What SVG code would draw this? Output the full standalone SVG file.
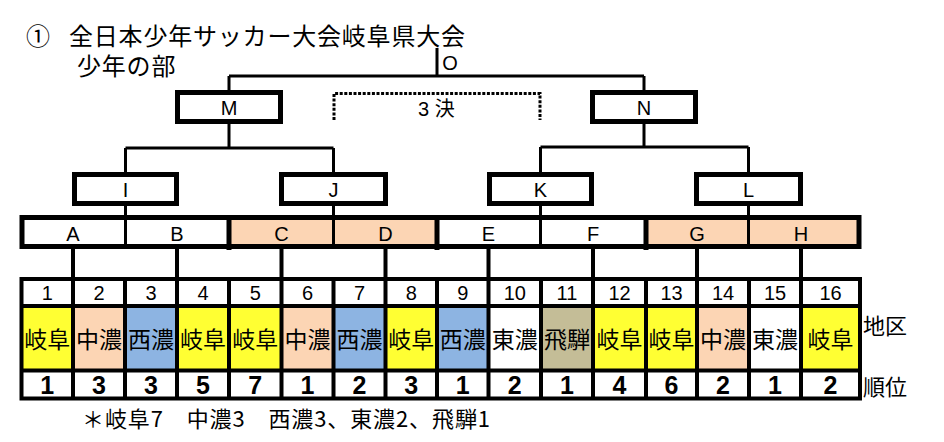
<svg xmlns="http://www.w3.org/2000/svg" width="944" height="442" viewBox="0 0 944 442">
<style>
  .cjk { font-family: "Noto Sans CJK JP", "Noto Sans CJK SC", sans-serif; fill: #000; }
  .lat { font-family: "Liberation Sans", "Noto Sans CJK JP", sans-serif; fill: #000; }
  .c { text-anchor: middle; dominant-baseline: central; }
  .m { dominant-baseline: central; }
  .box { fill: #fff; stroke: #000; stroke-width: 5; }
  .conn { fill: none; stroke: #000; stroke-width: 3; }
  .dot { fill: none; stroke: #000; stroke-width: 3; stroke-dasharray: 3 1.6; }
  .thin { stroke: #000; stroke-width: 3; }
  .thick { stroke: #000; stroke-width: 5; }
  .grid { stroke: #000; stroke-width: 4; fill: none; }
  .lbl { font-size: 20px; }
  .num { font-size: 20px; }
  .reg { font-size: 23px; }
  .rank { font-size: 25px; font-weight: bold; }
  .y { fill: #FFFF33; }
  .p { fill: #FCD5B4; }
  .b { fill: #8DB4E2; }
  .t { fill: #C4BD97; }
  .w { fill: #FFFFFF; }
</style>

<rect x="0" y="0" width="944" height="442" fill="#fff"/>

<g id="title">
  <text class="cjk m" font-size="24"><tspan x="26" y="34">①</tspan><tspan x="69" y="34" letter-spacing="0.8">全日本少年サッカー大会岐阜県大会</tspan><tspan x="77" y="63.5" letter-spacing="0.8">少年の部</tspan></text>
</g>

<g id="connectors">
  <path class="conn" d="M437 48 V76 M229 76 H644 M229 76 V90 M644 76 V90"/>
  <path class="conn" d="M229 124 V148 M125.5 148 H333.5 M125.5 148 V172 M333.5 148 V172"/>
  <path class="conn" d="M644 124 V147 M540.5 147 H748.5 M540.5 147 V172 M748.5 147 V172"/>
  <path class="conn" d="M125.5 206 V216 M333.5 206 V216 M540.5 205 V216 M748.5 205 V216"/>
  <path class="grid" d="M73 249 V277 M177 249 V277 M281.5 249 V277 M385.5 249 V277 M488.5 249 V277 M593 249 V277 M697 249 V277 M801 249 V277"/>
</g>

<g id="node-O">
  <text class="lat c lbl" x="450" y="63">O</text>
</g>

<g id="node-M">
  <rect class="box" x="177.5" y="92.5" width="103" height="29"/>
  <text class="lat c lbl" x="229" y="108">M</text>
</g>

<g id="node-N">
  <rect class="box" x="592.5" y="92.5" width="103" height="29"/>
  <text class="lat c lbl" x="644" y="108">N</text>
</g>

<g id="third-place">
  <path class="dot" d="M334 120 V93.5 H540 V120"/>
  <text class="lat m" x="418" y="109" font-size="20">3 決</text>
</g>

<g id="node-I">
  <rect class="box" x="74.5" y="174.5" width="102" height="29"/>
  <text class="lat c lbl" x="125.5" y="189.5">I</text>
</g>
<g id="node-J">
  <rect class="box" x="281.5" y="174.5" width="104" height="29"/>
  <text class="lat c lbl" x="333.5" y="189.5">J</text>
</g>
<g id="node-K">
  <rect class="box" x="489.5" y="174.5" width="102" height="29"/>
  <text class="lat c lbl" x="540.5" y="189.5">K</text>
</g>
<g id="node-L">
  <rect class="box" x="696.5" y="174.5" width="104" height="29"/>
  <text class="lat c lbl" x="748.5" y="189.5">L</text>
</g>

<g id="groups-bar">
  <rect class="w" x="22" y="217.5" width="837" height="29"/>
  <rect class="p" x="229" y="217.5" width="208" height="29"/>
  <rect class="p" x="646" y="217.5" width="213" height="29"/>
  <path class="thin" d="M125.5 217 V247 M333.5 217 V247 M540.5 217 V247 M748.5 217 V247"/>
  <path class="thick" d="M229 217 V250 M437 217 V250 M646 217 V250"/>
  <rect x="22" y="217.5" width="837" height="29" fill="none" stroke="#000" stroke-width="5"/>
  <text class="lat c lbl" x="73" y="234">A</text>
  <text class="lat c lbl" x="177" y="234">B</text>
  <text class="lat c lbl" x="281.5" y="234">C</text>
  <text class="lat c lbl" x="385.5" y="234">D</text>
  <text class="lat c lbl" x="488.5" y="234">E</text>
  <text class="lat c lbl" x="593" y="234">F</text>
  <text class="lat c lbl" x="697" y="234">G</text>
  <text class="lat c lbl" x="801" y="234">H</text>
</g>

<g id="table">
  <rect class="w" x="21.5" y="279" width="838.5" height="119.5"/>
  <rect class="y" x="21.5" y="306" width="51.5" height="64.5"/>
  <rect class="p" x="73" y="306" width="52" height="64.5"/>
  <rect class="b" x="125" y="306" width="52" height="64.5"/>
  <rect class="y" x="177" y="306" width="52" height="64.5"/>
  <rect class="y" x="229" y="306" width="52.5" height="64.5"/>
  <rect class="p" x="281.5" y="306" width="52" height="64.5"/>
  <rect class="b" x="333.5" y="306" width="52" height="64.5"/>
  <rect class="y" x="385.5" y="306" width="51.5" height="64.5"/>
  <rect class="b" x="437" y="306" width="51.5" height="64.5"/>
  <rect class="t" x="541" y="306" width="52" height="64.5"/>
  <rect class="y" x="593" y="306" width="53" height="64.5"/>
  <rect class="y" x="646" y="306" width="51" height="64.5"/>
  <rect class="p" x="697" y="306" width="52" height="64.5"/>
  <rect class="y" x="801" y="306" width="59" height="64.5"/>
  <path class="grid" d="M21.5 306 H860 M21.5 370.5 H860"/>
  <path class="grid" d="M73 279 V398.5 M125 279 V398.5 M177 279 V398.5 M229 279 V398.5 M281.5 279 V398.5 M333.5 279 V398.5 M385.5 279 V398.5 M437 279 V398.5 M488.5 279 V398.5 M541 279 V398.5 M593 279 V398.5 M646 279 V398.5 M697 279 V398.5 M749 279 V398.5 M801 279 V398.5"/>
  <rect class="grid" x="21.5" y="279" width="838.5" height="119.5"/>

  <g class="lat c num">
    <text x="47.25" y="292.5">1</text>
    <text x="99" y="292.5">2</text>
    <text x="151" y="292.5">3</text>
    <text x="203" y="292.5">4</text>
    <text x="255.25" y="292.5">5</text>
    <text x="307.5" y="292.5">6</text>
    <text x="359.5" y="292.5">7</text>
    <text x="411.25" y="292.5">8</text>
    <text x="462.75" y="292.5">9</text>
    <text x="514.75" y="292.5">10</text>
    <text x="567" y="292.5">11</text>
    <text x="619.5" y="292.5">12</text>
    <text x="671.5" y="292.5">13</text>
    <text x="723" y="292.5">14</text>
    <text x="775" y="292.5">15</text>
    <text x="830.5" y="292.5">16</text>
  </g>

  <g class="cjk c reg">
    <text x="47.25" y="338">岐阜</text>
    <text x="99" y="338">中濃</text>
    <text x="151" y="338">西濃</text>
    <text x="203" y="338">岐阜</text>
    <text x="255.25" y="338">岐阜</text>
    <text x="307.5" y="338">中濃</text>
    <text x="359.5" y="338">西濃</text>
    <text x="411.25" y="338">岐阜</text>
    <text x="462.75" y="338">西濃</text>
    <text x="514.75" y="338">東濃</text>
    <text x="567" y="338">飛騨</text>
    <text x="619.5" y="338">岐阜</text>
    <text x="671.5" y="338">岐阜</text>
    <text x="723" y="338">中濃</text>
    <text x="775" y="338">東濃</text>
    <text x="830.5" y="338">岐阜</text>
  </g>

  <g class="lat c rank">
    <text x="47.25" y="385">1</text>
    <text x="99" y="385">3</text>
    <text x="151" y="385">3</text>
    <text x="203" y="385">5</text>
    <text x="255.25" y="385">7</text>
    <text x="307.5" y="385">1</text>
    <text x="359.5" y="385">2</text>
    <text x="411.25" y="385">3</text>
    <text x="462.75" y="385">1</text>
    <text x="514.75" y="385">2</text>
    <text x="567" y="385">1</text>
    <text x="619.5" y="385">4</text>
    <text x="671.5" y="385">6</text>
    <text x="723" y="385">2</text>
    <text x="775" y="385">1</text>
    <text x="830.5" y="385">2</text>
  </g>

  <text class="cjk m" x="863" y="324" font-size="22">地区</text>
  <text class="cjk m" x="863" y="385" font-size="22">順位</text>
</g>

<g id="footnote">
  <text class="cjk m" x="82" y="417" font-size="22" textLength="408" lengthAdjust="spacing">＊岐阜7　中濃3　西濃3、東濃2、飛騨1</text>
</g>
</svg>
